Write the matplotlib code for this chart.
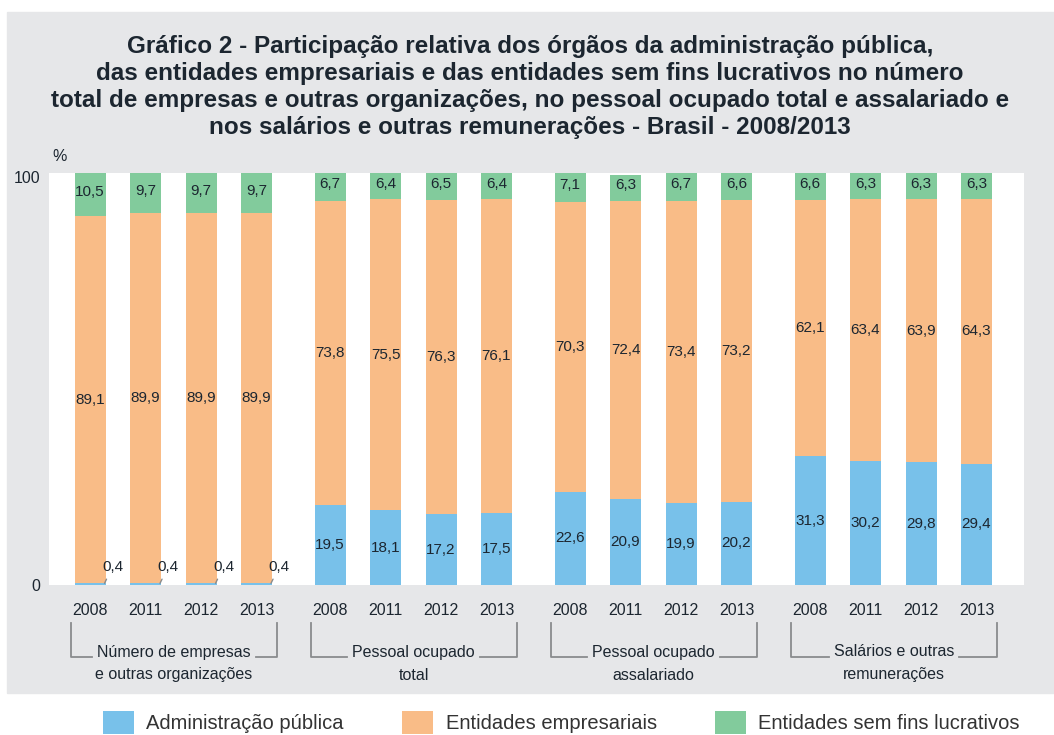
import matplotlib.pyplot as plt
from matplotlib.patches import Rectangle
import matplotlib.transforms as mtransforms

plt.rcParams['font.family'] = ['Liberation Sans', 'DejaVu Sans']

# dados (%)
anos = ['2008', '2011', '2012', '2013']
grupos = ['Número de empresas\ne outras organizações',
          'Pessoal ocupado\ntotal',
          'Pessoal ocupado\nassalariado',
          'Salários e outras\nremunerações']
adm_publica = [0.4, 0.4, 0.4, 0.4,
               19.5, 18.1, 17.2, 17.5,
               22.6, 20.9, 19.9, 20.2,
               31.3, 30.2, 29.8, 29.4]
ent_empresariais = [89.1, 89.9, 89.9, 89.9,
                    73.8, 75.5, 76.3, 76.1,
                    70.3, 72.4, 73.4, 73.2,
                    62.1, 63.4, 63.9, 64.3]
sem_fins = [10.5, 9.7, 9.7, 9.7,
            6.7, 6.4, 6.5, 6.4,
            7.1, 6.3, 6.7, 6.6,
            6.6, 6.3, 6.3, 6.3]

cor_adm = '#78c1ea'
cor_emp = '#f9bc87'
cor_sf = '#82cb9c'
cor_txt = '#1c2630'
cor_fundo = '#e6e7e9'

W, H = 1054, 735
fig = plt.figure(figsize=(W / 100, H / 100), dpi=100)


def fx(px):
    return px / W


def fy(py):
    return 1 - py / H


# painel cinza
fig.patches.append(Rectangle((fx(7), fy(693)), fx(1054) - fx(7), fy(12) - fy(693),
                             transform=fig.transFigure, color=cor_fundo, zorder=-5))

titulo = ('Gráfico 2 - Participação relativa dos órgãos da administração pública,\n'
          'das entidades empresariais e das entidades sem fins lucrativos no número\n'
          'total de empresas e outras organizações, no pessoal ocupado total e assalariado e\n'
          'nos salários e outras remunerações - Brasil - 2008/2013')
fig.text(fx(530), fy(87), titulo, ha='center', va='center', fontsize=17.5,
         fontweight='bold', color=cor_txt, linespacing=1.22)

ax = fig.add_axes([fx(49), fy(585), fx(1024) - fx(49), fy(173) - fy(585)])
ax.set_facecolor('white')

# posicoes das barras
largura = 31
xs = []
for g in range(4):
    for i in range(4):
        xs.append(41 + g * 240 + i * 55.5)

base2 = adm_publica
base3 = [a + b for a, b in zip(adm_publica, ent_empresariais)]
ax.bar(xs, adm_publica, width=largura, color=cor_adm, label='Administração pública')
ax.bar(xs, ent_empresariais, width=largura, bottom=base2, color=cor_emp,
       label='Entidades empresariais')
ax.bar(xs, sem_fins, width=largura, bottom=base3, color=cor_sf,
       label='Entidades sem fins lucrativos')

ax.set_xlim(0, 975)
ax.set_ylim(0, 100)
for s in ax.spines.values():
    s.set_visible(False)

ax.set_yticks([0, 100], ['0', '100'])
ax.tick_params(axis='y', length=0, pad=6.5, labelsize=11.5, labelcolor=cor_txt)
# o "100" fica um pouco abaixo do topo
desloc = mtransforms.ScaledTranslation(0, -4 / 100, fig.dpi_scale_trans)
lbl100 = ax.get_yticklabels()[1]
lbl100.set_transform(lbl100.get_transform() + desloc)
ax.set_xticks(xs, anos * 4)
ax.tick_params(axis='x', length=0, pad=13, labelsize=11.5, labelcolor=cor_txt)
ax.text(0.011, 1.039, '%', transform=ax.transAxes, ha='center', va='center',
        fontsize=11.5, color=cor_txt)


def fmt(v):
    return ('%.1f' % v).replace('.', ',')


for i, x in enumerate(xs):
    a = adm_publica[i]
    e = ent_empresariais[i]
    s = sem_fins[i]
    if a < 2:
        ax.annotate(fmt(a), xy=(x + largura / 2 - 1, a), xytext=(x + largura / 2 + 7, 4.4),
                    ha='center', va='center', fontsize=11, color=cor_txt,
                    arrowprops=dict(arrowstyle='-', color='#8a8c8e', lw=1, shrinkA=2, shrinkB=0))
    else:
        ax.text(x, a / 2, fmt(a), ha='center', va='center', fontsize=11, color=cor_txt)
    ax.text(x, a + e / 2, fmt(e), ha='center', va='center', fontsize=11, color=cor_txt)
    ax.text(x, a + e + s / 2 + 0.6, fmt(s), ha='center', va='center', fontsize=11, color=cor_txt)

# chaves dos grupos
trans = mtransforms.blended_transform_factory(ax.transData, ax.transAxes)
y_top = -38 / 412
y_lin = -72 / 412
fig.canvas.draw()
r = fig.canvas.get_renderer()
for g in range(4):
    x0 = xs[g * 4] - largura / 2 - 4
    x1 = xs[g * 4 + 3] + largura / 2 + 5
    xc = (x0 + x1) / 2
    l1, l2 = grupos[g].split('\n')
    t1 = ax.text(xc, -67 / 412, l1, transform=trans, ha='center', va='center',
                 fontsize=11.5, color=cor_txt)
    ax.text(xc, -90 / 412, l2, transform=trans, ha='center', va='center',
            fontsize=11.5, color=cor_txt)
    bb = t1.get_window_extent(r)
    inv = ax.transData.inverted()
    tl = inv.transform((bb.x0 - 5, 0))[0]
    tr = inv.transform((bb.x1 + 5, 0))[0]
    kw = dict(transform=trans, color='#8a8c8e', lw=1.3, clip_on=False)
    ax.plot([x0, x0, tl], [y_top, y_lin, y_lin], **kw)
    ax.plot([x1, x1, tr], [y_top, y_lin, y_lin], **kw)

# legenda
leg = fig.legend(loc='upper left', bbox_to_anchor=(fx(103), fy(711)), ncol=3,
                 frameon=False, fontsize=14.5, handlelength=1.55, handleheight=1.35,
                 handletextpad=0.6, columnspacing=2.9, borderpad=0, borderaxespad=0,
                 labelcolor='#333333')

fig.savefig('out.png', dpi=100)
